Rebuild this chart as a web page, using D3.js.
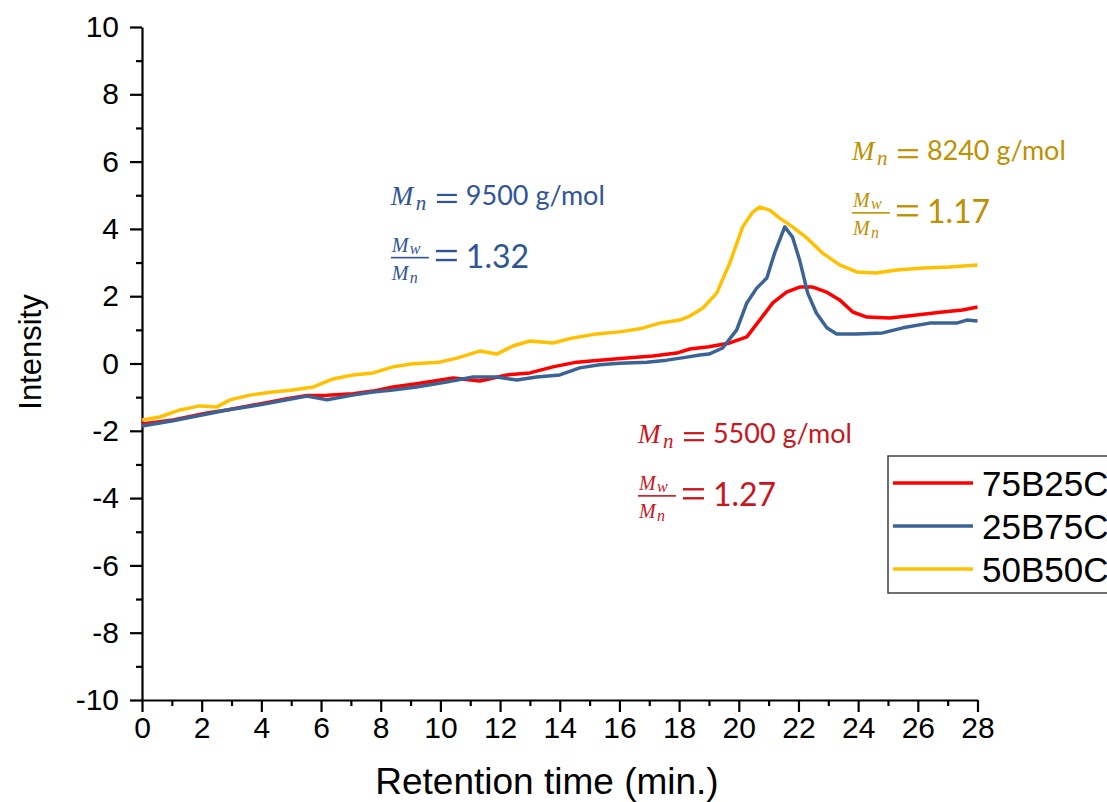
<!DOCTYPE html>
<html>
<head>
<meta charset="utf-8">
<script src="https://cdn.jsdelivr.net/npm/d3@7"></script>
<style>
  html, body { margin: 0; padding: 0; background: #fff; }
  svg { display: block; }
</style>
</head>
<body>
<div id="chart"></div>
<script>
// series names and colours
var seriesNames = ["75B25C", "25B75C", "50B50C"];
var seriesColors = ["#ff0000", "#3b6496", "#ffc000"];

// retention time (min) vs intensity
var red75B25C = [
  [0, -1.8], [1.04, -1.68], [2.18, -1.47], [2.85, -1.38], [3.95, -1.2], [4.86, -1.05],
  [5.53, -0.95], [6.2, -0.94], [7.07, -0.9], [7.74, -0.82], [8.41, -0.7], [9.2, -0.6],
  [10.43, -0.43], [11.32, -0.52], [12.23, -0.34], [13.0, -0.28], [13.77, -0.1], [14.57, 0.04],
  [15.34, 0.1], [16.25, 0.16], [17.12, 0.22], [17.92, 0.31], [18.36, 0.43], [19.0, 0.5],
  [19.7, 0.61], [20.27, 0.79], [20.7, 1.29], [21.14, 1.8], [21.6, 2.12], [22.04, 2.27],
  [22.48, 2.27], [22.95, 2.12], [23.38, 1.89], [23.82, 1.53], [24.29, 1.38], [25.06, 1.35],
  [25.96, 1.44], [26.83, 1.53], [27.5, 1.59], [28, 1.68]
];
var blue25B75C = [
  [0, -1.86], [1.04, -1.7], [2.18, -1.5], [2.85, -1.38], [3.28, -1.32], [3.95, -1.23],
  [4.86, -1.08], [5.53, -0.97], [6.2, -1.08], [7.07, -0.94], [7.74, -0.85], [8.41, -0.79],
  [9.2, -0.7], [10.2, -0.55], [11.1, -0.4], [11.89, -0.4], [12.56, -0.49], [13.23, -0.4],
  [14.0, -0.34], [14.67, -0.13], [15.34, -0.04], [16.0, 0.01], [16.92, 0.04], [17.59, 0.1],
  [18.26, 0.19], [18.69, 0.25], [19.0, 0.28], [19.46, 0.46], [19.93, 1.0], [20.27, 1.8],
  [20.6, 2.24], [20.94, 2.54], [21.2, 3.28], [21.54, 4.06], [21.8, 3.76], [22.04, 3.07],
  [22.31, 2.09], [22.6, 1.5], [22.95, 1.06], [23.28, 0.88], [23.95, 0.88], [24.82, 0.91],
  [25.5, 1.06], [26.4, 1.2], [27.3, 1.2], [27.64, 1.29], [28, 1.26]
];
var yellow50B50C = [
  [0, -1.68], [0.6, -1.59], [1.27, -1.38], [1.94, -1.26], [2.51, -1.29], [2.95, -1.08],
  [3.62, -0.94], [4.39, -0.85], [5.06, -0.79], [5.73, -0.7], [6.4, -0.46], [7.07, -0.34],
  [7.74, -0.28], [8.41, -0.1], [9.08, -0.01], [9.98, 0.04], [10.55, 0.16], [11.32, 0.37],
  [11.89, 0.28], [12.43, 0.52], [13.0, 0.67], [13.77, 0.61], [14.44, 0.76], [15.24, 0.88],
  [16.0, 0.94], [16.68, 1.03], [17.35, 1.2], [18.02, 1.29], [18.36, 1.41], [18.8, 1.65],
  [19.26, 2.09], [19.7, 2.99], [20.13, 4.06], [20.47, 4.5], [20.7, 4.65], [21.04, 4.56],
  [21.37, 4.32], [21.8, 4.06], [22.28, 3.73], [22.81, 3.28], [23.38, 2.93], [23.95, 2.72],
  [24.6, 2.69], [25.3, 2.78], [26.2, 2.84], [27.07, 2.87], [28, 2.93]
];
var seriesData = [red75B25C, blue25B75C, yellow50B50C];

// ticks
var xTicks = d3.range(0, 29, 2);
var xMinorTicks = d3.range(1, 28, 2);
var yTicks = d3.range(-10, 11, 2);
var yMinorTicks = d3.range(-9, 10, 2);

// Mn / PDI labels (anchor in data units: left edge, fraction bar)
var annoMn = ["9500", "8240", "5500"];
var annoPdi = ["1.32", "1.17", "1.27"];
var annoX = [8.34, 23.79, 16.62];
var annoY = [3.14, 4.47, -3.94];
var annoColors = ["#2f5597", "#bf9000", "#c8161e"];

var width = 1107, height = 802;
var svg = d3.select("#chart").append("svg")
    .attr("width", width)
    .attr("height", height);

var x = d3.scaleLinear().domain([0, 28]).range([142, 977.5]);
var y = d3.scaleLinear().domain([-10, 10]).range([700, 27]);

var tickFont = "'Liberation Sans', Arial, sans-serif";
var plain = function (d) { return String(d); };  // hyphen minus, like the original

// x axis
var xAxis = svg.append("g").attr("transform", "translate(0," + y(-10) + ")");
xAxis.call(d3.axisBottom(x).tickValues(xTicks).tickFormat(plain).tickSize(12).tickSizeOuter(0).tickPadding(4));
xAxis.append("g").call(d3.axisBottom(x).tickValues(xMinorTicks).tickSize(6).tickFormat(""))
    .select(".domain").remove();

// y axis
var yAxis = svg.append("g").attr("transform", "translate(" + x(0) + ",0)");
yAxis.call(d3.axisLeft(y).tickValues(yTicks).tickFormat(plain).tickSize(12).tickSizeOuter(0).tickPadding(11));
yAxis.append("g").call(d3.axisLeft(y).tickValues(yMinorTicks).tickSize(6).tickFormat(""))
    .select(".domain").remove();

svg.selectAll(".domain").attr("stroke", "#000").attr("stroke-width", 2.2);
svg.selectAll(".tick line").attr("stroke", "#000").attr("stroke-width", 2.2);
svg.selectAll(".tick text")
    .attr("font-family", tickFont)
    .attr("font-size", 30)
    .attr("fill", "#000");
xAxis.selectAll(".tick text").attr("dy", "0.72em");

// axis titles
svg.append("text")
    .attr("x", 547)
    .attr("y", 794)
    .attr("text-anchor", "middle")
    .attr("font-family", tickFont)
    .attr("font-size", 37)
    .text("Retention time (min.)");

svg.append("text")
    .attr("transform", "translate(41,352) rotate(-90)")
    .attr("text-anchor", "middle")
    .attr("font-family", tickFont)
    .attr("font-size", 31)
    .text("Intensity");

// curves
var line = d3.line()
    .x(function (d) { return x(d[0]); })
    .y(function (d) { return y(d[1]); });

[0, 2, 1].forEach(function (i) {
    svg.append("path")
        .datum(seriesData[i])
        .attr("fill", "none")
        .attr("stroke", seriesColors[i])
        .attr("stroke-width", 3.5)
        .attr("stroke-linejoin", "round")
        .attr("d", line);
});

// annotations
var serif = "'Liberation Serif', 'DejaVu Serif', serif";
var sans = "Lato, 'Open Sans', sans-serif";
annoMn.forEach(function (mn, i) {
    var x0 = x(annoX[i]), bar = y(annoY[i]);
    var g = svg.append("g").attr("fill", annoColors[i]);
    var top = bar - 53;

    // M_n = xxxx g/mol
    g.append("text").attr("x", x0).attr("y", top)
        .attr("font-family", serif).attr("font-style", "italic").attr("font-size", 27).text("M");
    g.append("text").attr("x", x0 + 25).attr("y", top + 5)
        .attr("font-family", serif).attr("font-style", "italic").attr("font-size", 21).text("n");
    g.append("rect").attr("x", x0 + 46).attr("y", top - 11).attr("width", 20).attr("height", 2.2);
    g.append("rect").attr("x", x0 + 46).attr("y", top - 4).attr("width", 20).attr("height", 2.2);
    g.append("text").attr("x", x0 + 75).attr("y", top)
        .attr("font-family", sans).attr("font-size", 27).text(mn + " g/mol");

    // Mw / Mn fraction
    g.append("text").attr("x", x0 + 1).attr("y", bar - 6)
        .attr("font-family", serif).attr("font-style", "italic").attr("font-size", 20).text("M");
    g.append("text").attr("x", x0 + 19).attr("y", bar - 4)
        .attr("font-family", serif).attr("font-style", "italic").attr("font-size", 16).text("w");
    g.append("rect").attr("x", x0).attr("y", bar - 1).attr("width", 38).attr("height", 1.6);
    g.append("text").attr("x", x0 + 1).attr("y", bar + 22)
        .attr("font-family", serif).attr("font-style", "italic").attr("font-size", 20).text("M");
    g.append("text").attr("x", x0 + 19).attr("y", bar + 25)
        .attr("font-family", serif).attr("font-style", "italic").attr("font-size", 16).text("n");
    g.append("rect").attr("x", x0 + 45).attr("y", bar - 8).attr("width", 21).attr("height", 2.4);
    g.append("rect").attr("x", x0 + 45).attr("y", bar + 1).attr("width", 21).attr("height", 2.4);
    g.append("text").attr("x", x0 + 75).attr("y", bar + 10)
        .attr("font-family", sans).attr("font-size", 32).text(annoPdi[i]);
});

// legend
var legend = svg.append("g");
legend.append("rect")
    .attr("x", 888).attr("y", 456)
    .attr("width", 260).attr("height", 137)
    .attr("fill", "#fff")
    .attr("stroke", "#404040")
    .attr("stroke-width", 1.5);
seriesNames.forEach(function (name, i) {
    var ry = 483 + i * 43;
    legend.append("line")
        .attr("x1", 893).attr("x2", 973)
        .attr("y1", ry).attr("y2", ry)
        .attr("stroke", seriesColors[i])
        .attr("stroke-width", 3.5);
    legend.append("text")
        .attr("x", 982).attr("y", ry + 13)
        .attr("font-family", tickFont)
        .attr("font-size", 35)
        .text(name);
});
</script>
</body>
</html>
